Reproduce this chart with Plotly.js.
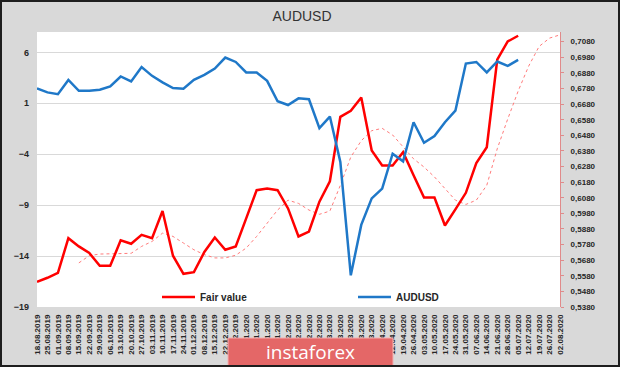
<!DOCTYPE html>
<html>
<head>
<meta charset="utf-8">
<script src="https://cdn.plot.ly/plotly-3.0.1.min.js"></script>
<style>
  html, body { margin: 0; padding: 0; background: #d9d9d9; }
  #wrap { position: relative; width: 620px; height: 367px; }
  #chart { width: 620px; height: 367px; }
  #frame { position: absolute; left: 0; top: 0; width: 620px; height: 367px; box-sizing: border-box; border: 2px solid #1e1e1e; pointer-events: none; }
</style>
</head>
<body>
<div id="wrap"><div id="chart"></div><div id="frame"></div></div>
<script>
// ---- data ----
const dates = [
  "18.08.2019","25.08.2019","01.09.2019","08.09.2019","15.09.2019","22.09.2019","29.09.2019",
  "06.10.2019","13.10.2019","20.10.2019","27.10.2019","03.11.2019","10.11.2019","17.11.2019",
  "24.11.2019","01.12.2019","08.12.2019","15.12.2019","22.12.2019","29.12.2019","05.01.2020",
  "12.01.2020","19.01.2020","26.01.2020","02.02.2020","09.02.2020","16.02.2020","23.02.2020",
  "01.03.2020","08.03.2020","15.03.2020","22.03.2020","29.03.2020","05.04.2020","12.04.2020",
  "19.04.2020","26.04.2020","03.05.2020","10.05.2020","17.05.2020","24.05.2020","31.05.2020",
  "07.06.2020","14.06.2020","21.06.2020","28.06.2020","05.07.2020","12.07.2020","19.07.2020",
  "26.07.2020","02.08.2020"
];

const fairValue = [
  -16.52, -16.13, -15.65, -12.24, -13.05, -13.70, -14.96, -14.96, -12.46, -12.79,
  -11.92, -12.24, -9.58, -13.96, -15.74, -15.58, -13.60, -12.17, -13.38, -13.05,
  -10.3, -7.53, -7.37, -7.53, -9.32, -12.07, -11.59, -8.66, -6.66, -0.33,
  0.26, 1.56, -3.64, -5.10, -5.10, -3.80, -6.07, -8.25, -8.25, -11.0,
  -9.41, -7.79, -4.87, -3.31, 5.29, 7.07, 7.63
];

const audusd = [
  0.6781, 0.6755, 0.6744, 0.6835, 0.6765, 0.6765, 0.6772, 0.6793, 0.6857, 0.6825,
  0.6918, 0.6861, 0.6819, 0.6783, 0.6778, 0.6835, 0.6867, 0.6908, 0.6978, 0.6950,
  0.6883, 0.6883, 0.6829, 0.6698, 0.6674, 0.6717, 0.6711, 0.6526, 0.6600, 0.6309,
  0.5583, 0.5906, 0.6076, 0.6139, 0.6362, 0.6313, 0.6564, 0.6432, 0.6475, 0.6564,
  0.6638, 0.6940, 0.6950, 0.6883, 0.6953, 0.6925, 0.6963
];

const fairValueTrend = [
  null, null, null, null, -14.67, -13.96, -13.8, -13.8, -13.8, -13.73,
  -13.05, -12.56, -11.75, -12.07, -12.72, -13.38, -13.86, -14.18, -14.18, -13.92,
  -13.21, -12.07, -10.78, -9.48, -8.51, -8.83, -9.48, -9.9, -9.58, -7.05,
  -4.28, -2.67, -1.69, -1.46, -2.11, -3.31, -4.45, -5.26, -6.23, -7.37,
  -8.51, -8.93, -8.51, -7.05, -3.47, -0.55, 2.2, 4.64, 6.58, 7.4, 7.72
];

const leftTicks = [-19, -14, -9, -4, 1, 6];
const rightTicks = [0.538, 0.548, 0.558, 0.568, 0.578, 0.588, 0.598, 0.608, 0.618,
  0.628, 0.638, 0.648, 0.658, 0.668, 0.678, 0.688, 0.698, 0.708];
const rightTickText = rightTicks.map(v => v.toFixed(4).replace('.', ','));

// ---- layout helpers ----
const W = 620, H = 367;
const M = { l: 37, r: 60, t: 32, b: 60 };
const PW = W - M.l - M.r, PH = H - M.t - M.b;
const px = x => (x - M.l) / PW;
const py = y => (H - M.b - y) / PH;

const boldFont = { family: 'Liberation Sans, Arial, sans-serif', size: 8, color: '#262626', weight: 'bold' };

const traces = [
  {
    x: dates, y: fairValueTrend, type: 'scatter', mode: 'lines', name: 'trend',
    line: { color: '#ff7b7b', width: 1, dash: 'dot' }, showlegend: false, connectgaps: false,
    hoverinfo: 'skip'
  },
  {
    x: dates.slice(0, fairValue.length), y: fairValue, type: 'scatter', mode: 'lines', name: 'Fair value',
    line: { color: '#ff0000', width: 2.5 }
  },
  {
    x: dates.slice(0, audusd.length), y: audusd, type: 'scatter', mode: 'lines', name: 'AUDUSD',
    yaxis: 'y2', line: { color: '#1f78c8', width: 2.5 }
  }
];

const layout = {
  width: W, height: H,
  margin: { l: M.l, r: M.r, t: M.t, b: M.b, pad: 0 },
  paper_bgcolor: '#d9d9d9',
  plot_bgcolor: '#ffffff',
  font: { family: 'Liberation Sans, Arial, sans-serif', color: '#262626' },
  title: {
    text: 'AUDUSD', font: { size: 14, color: '#333333', family: 'Liberation Sans, Arial, sans-serif' },
    x: 302 / W, xanchor: 'center', xref: 'container', y: 1 - 16 / H, yanchor: 'middle', yref: 'container'
  },
  xaxis: {
    type: 'category', categoryorder: 'array', categoryarray: dates,
    range: [0, dates.length - 1],
    tickmode: 'array', tickvals: dates, ticktext: dates,
    tickangle: -90, tickfont: Object.assign({}, boldFont, { size: 8 }),
    showgrid: false, zeroline: false, showline: false, ticks: '', ticklabelstandoff: 5
  },
  yaxis: {
    range: [-19, 8], tickmode: 'array', tickvals: leftTicks,
    showgrid: true, gridcolor: '#d9d9d9', gridwidth: 1,
    zeroline: false, showline: false, ticks: '',
    tickfont: Object.assign({}, boldFont, { size: 9 }), ticklabelstandoff: 7
  },
  yaxis2: {
    overlaying: 'y', side: 'right', range: [0.538, 0.7142],
    tickmode: 'array', tickvals: rightTicks, ticktext: rightTickText,
    showgrid: false, zeroline: false,
    showline: true, linecolor: '#e08a8a', linewidth: 1,
    ticks: 'outside', ticklen: 3, tickcolor: '#e08a8a',
    tickfont: Object.assign({}, boldFont, { size: 8 }), ticklabelstandoff: 5
  },
  legend: {
    orientation: 'h', x: px(157), xanchor: 'left', y: py(297), yanchor: 'middle',
    bgcolor: 'rgba(0,0,0,0)', borderwidth: 0,
    font: { family: 'Liberation Sans, Arial, sans-serif', size: 10, color: '#262626', weight: 'bold' },
    entrywidth: 148, entrywidthmode: 'pixels', itemwidth: 33
  },
  shapes: [
    {
      type: 'rect', xref: 'paper', yref: 'paper',
      x0: px(228), x1: px(393), y0: py(372), y1: py(338),
      fillcolor: '#e46767', line: { color: '#f4b0b0', width: 1 }, layer: 'above'
    }
  ],
  annotations: [
    {
      text: 'instaforex', xref: 'paper', yref: 'paper', x: px(310), y: py(352),
      xanchor: 'center', yanchor: 'middle', showarrow: false,
      font: { family: 'Open Sans, sans-serif', size: 19, color: '#ffffff' }
    }
  ]
};

Plotly.newPlot('chart', traces, layout, { displayModeBar: false, staticPlot: true });
</script>
</body>
</html>
